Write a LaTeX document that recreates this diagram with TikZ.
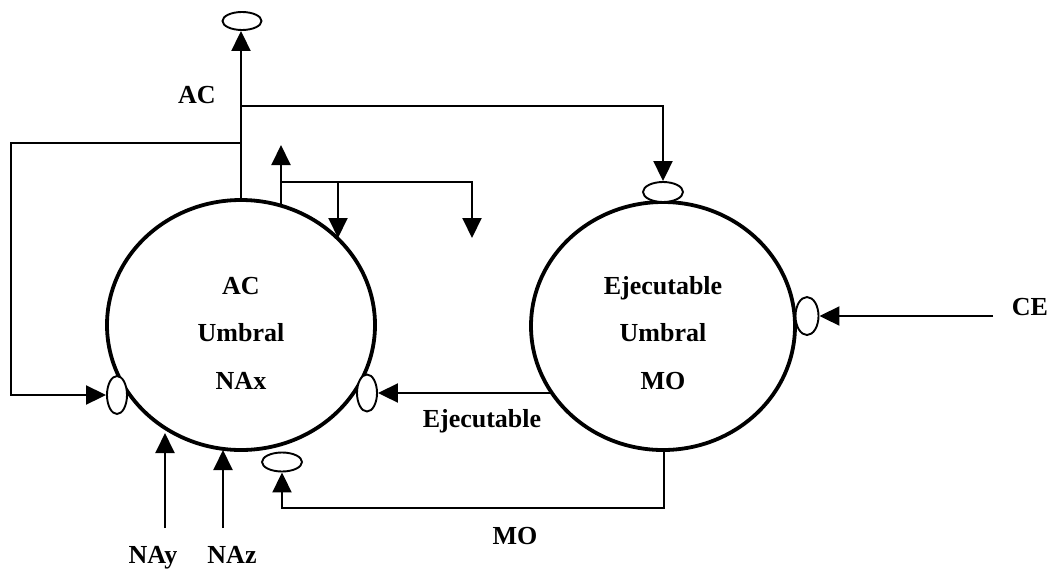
\documentclass[tikz,border=0pt]{standalone}
\usepackage{fontspec}
\setmainfont{Liberation Serif}
\usetikzlibrary{arrows.meta,shapes.geometric}
\begin{document}
\begin{tikzpicture}[x=1pt,y=-1pt,
  proc/.style={ellipse,draw,line width=3.8pt,inner sep=0pt},
  port/.style={ellipse,draw,line width=1.9pt,inner sep=0pt,fill=white},
  flow/.style={line width=2pt,-{Triangle[length=20pt,width=19pt]}},
  lbl/.style={inner sep=0pt,anchor=base,font=\fontsize{26}{30}\selectfont\bfseries},
  intext/.style={align=center,inner sep=0pt,font=\fontsize{26}{47.5}\selectfont\bfseries}]
\useasboundingbox (0,0) rectangle (1051,568);

% the two processes
\node[proc,minimum width=268pt,minimum height=250pt] (L) at (241,325) {};
\node[proc,minimum width=264pt,minimum height=248pt] (R) at (663,326) {};
\node[intext] (Ltext) at (241,333) {AC\\Umbral\\NAx};
\node[intext] (Rtext) at (663,333) {Ejecutable\\Umbral\\MO};

% junctions and free ends of the connectors
\coordinate (acSplit) at (241,106);
\coordinate (loopSplit) at (241,143);
\coordinate (fbBase) at (281,206);
\coordinate (fbTip) at (281,145);
\coordinate (fbSplit) at (281,182);
\coordinate (fbBack) at (338,238);
\coordinate (fbOut) at (472,238);
\coordinate (ejStart) at (552,393);
\coordinate (moStart) at (664,450);
\coordinate (ceStart) at (993,316);
\coordinate (nayStart) at (165,528);
\coordinate (nayEnd) at (165,433);
\coordinate (nazStart) at (223,528);
\coordinate (nazEnd) at (223,450);

% ports
\node[port,minimum width=39pt,minimum height=18pt] (pTop) at (242,21) {};
\node[port,minimum width=20pt,minimum height=38pt] (pLeft) at (117,395) {};
\node[port,minimum width=20pt,minimum height=37pt] (pRight) at (367,393) {};
\node[port,minimum width=40pt,minimum height=19pt] (pBot) at (282,462) {};
\node[port,minimum width=40pt,minimum height=20pt] (pRTop) at (663,192) {};
\node[port,minimum width=23pt,minimum height=38pt] (pRRight) at (807,316) {};

% connectors
\draw[flow] (L.north) -- (L.north |- pTop.south);
\draw[flow] (acSplit) -| (pRTop.north);
\draw[flow] (loopSplit) -- ++(-230,0) |- (pLeft.west);
\draw[flow] (fbBase) -- (fbTip);
\draw[flow] (fbSplit) -| (fbOut);
\draw[flow] (fbSplit -| fbBack) -- (fbBack);
\draw[flow] (ejStart) -- (pRight.east);
\draw[flow] (moStart) -- ++(0,58) -| (pBot.south);
\draw[flow] (ceStart) -- (pRRight.east);
\draw[flow] (nayStart) -- (nayEnd);
\draw[flow] (nazStart) -- (nazEnd);

% labels
\node[lbl] (acLbl) at (197,103) {AC};
\node[lbl] (ejLbl) at (482,427) {Ejecutable};
\node[lbl] (moLbl) at (515,544) {MO};
\node[lbl] (ceLbl) at (1030,315) {CE};
\node[lbl] (nayLbl) at (153,563) {NAy};
\node[lbl] (nazLbl) at (232,563) {NAz};
\end{tikzpicture}
\end{document}
